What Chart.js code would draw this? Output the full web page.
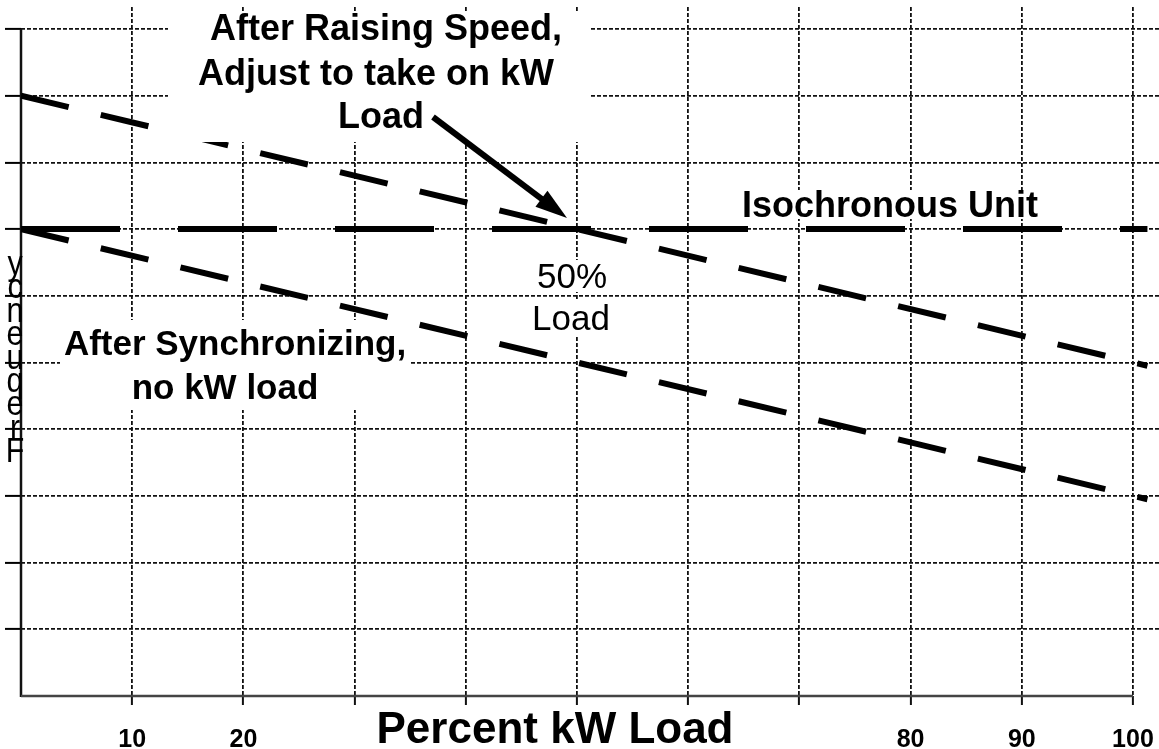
<!DOCTYPE html>
<html>
<head>
<meta charset="utf-8">
<script src="https://cdn.jsdelivr.net/npm/chart.js@4/dist/chart.umd.min.js"></script>
<style>
  html, body { margin: 0; padding: 0; background: #ffffff; }
  canvas { display: block; }
</style>
</head>
<body>
<canvas id="c" width="1159" height="749"></canvas>
<script>
// ---- data ----
const xTickValues = [0, 10, 20, 30, 40, 50, 60, 70, 80, 90, 100];
const xTickLabels = ['', '10', '20', '', '', '', '', '', '80', '90', '100'];
const yTickValues = [0, 1, 2, 3, 4, 5, 6, 7, 8, 9, 10];

const loadPercent = [0, 101.3];
const raisedSpeedFreq = [9, 4.95];
const isochronousFreq = [7, 7];
const synchronizedFreq = [7, 2.95];

const xAxisTitle = 'Percent kW Load';
const yAxisTitle = 'Frequency';
const raisedSpeedNote = ['After Raising Speed,', 'Adjust to take on kW', 'Load'];
const isochronousNote = 'Isochronous Unit';
const halfLoadNote = ['50%', 'Load'];
const synchronizedNote = ['After Synchronizing,', 'no kW load'];

const FONT = "'Liberation Sans', Arial, sans-serif";

function pts(xs, ys) { return xs.map((x, i) => ({ x: x, y: ys[i] })); }

const gridColor = (ctx) => (ctx.tick && ctx.tick.value === 0) ? 'rgba(0,0,0,0)' : '#111';

const overlay = {
  id: 'overlay',
  beforeDatasetsDraw(chart) {
    const { ctx, scales: { x, y } } = chart;
    ctx.save();
    ctx.setLineDash([]);
    ctx.strokeStyle = '#111';
    ctx.lineWidth = 2.5;
    ctx.beginPath();
    ctx.moveTo(x.getPixelForValue(0), y.getPixelForValue(10));
    ctx.lineTo(x.getPixelForValue(0), y.getPixelForValue(0) + 1);
    ctx.stroke();
    ctx.strokeStyle = '#444';
    ctx.beginPath();
    ctx.moveTo(x.getPixelForValue(0), y.getPixelForValue(0));
    ctx.lineTo(x.getPixelForValue(100), y.getPixelForValue(0));
    ctx.stroke();
    ctx.restore();
  },
  afterDatasetsDraw(chart) {
    const { ctx } = chart;
    ctx.save();
    ctx.setLineDash([]);
    // white backgrounds behind the notes
    ctx.fillStyle = '#ffffff';
    ctx.fillRect(168, 11, 422, 131);
    ctx.fillRect(60, 320, 350, 90);
    ctx.fillRect(735, 190, 310, 29);
    ctx.fillRect(533, 260, 80, 32);
    ctx.fillRect(527, 301, 90, 34);

    ctx.fillStyle = '#000';
    ctx.textAlign = 'center';
    ctx.textBaseline = 'alphabetic';
    ctx.font = 'bold 36px ' + FONT;
    ctx.fillText(raisedSpeedNote[0], 386, 40);
    ctx.fillText(raisedSpeedNote[1], 376, 85);
    ctx.fillText(raisedSpeedNote[2], 381, 128);
    ctx.fillText(isochronousNote, 890, 217);
    ctx.font = 'bold 35px ' + FONT;
    ctx.fillText(synchronizedNote[0], 235, 355);
    ctx.fillText(synchronizedNote[1], 225, 399);
    ctx.font = '35px ' + FONT;
    ctx.fillText(halfLoadNote[0], 572, 288);
    ctx.fillText(halfLoadNote[1], 571, 330);

    // arrow
    const x0 = 433, y0 = 117, x1 = 567, y1 = 218;
    const dx = x1 - x0, dy = y1 - y0, L = Math.hypot(dx, dy);
    const ux = dx / L, uy = dy / L;
    const hl = 32, hw = 10;
    ctx.strokeStyle = '#000';
    ctx.lineWidth = 6;
    ctx.beginPath();
    ctx.moveTo(x0, y0);
    ctx.lineTo(x1 - ux * hl * 0.8, y1 - uy * hl * 0.8);
    ctx.stroke();
    ctx.beginPath();
    ctx.moveTo(x1, y1);
    ctx.lineTo(x1 - ux * hl - uy * hw, y1 - uy * hl + ux * hw);
    ctx.lineTo(x1 - ux * hl + uy * hw, y1 - uy * hl - ux * hw);
    ctx.closePath();
    ctx.fillStyle = '#000';
    ctx.fill();
    ctx.restore();
  },
  afterDraw(chart) {
    const { ctx } = chart;
    ctx.save();
    ctx.fillStyle = '#000';
    ctx.textAlign = 'center';
    ctx.textBaseline = 'alphabetic';
    ctx.font = 'bold 44px ' + FONT;
    ctx.fillText(xAxisTitle, 555, 743);

    // garbled vertical axis title: letters stacked bottom-to-top
    const chars = yAxisTitle.split('').reverse();
    ctx.font = '32px ' + FONT;
    chars.forEach((ch, i) => {
      ctx.save();
      ctx.translate(15, 275 + i * 23.4);
      ctx.scale(0.95, 1.1);
      ctx.fillText(ch, 0, 0);
      ctx.restore();
    });
    ctx.restore();
  }
};

new Chart(document.getElementById('c'), {
  type: 'line',
  data: {
    datasets: [
      {
        label: 'After Raising Speed',
        data: pts(loadPercent, raisedSpeedFreq),
        borderColor: '#000',
        borderWidth: 6,
        borderDash: [49, 33],
        borderCapStyle: 'butt',
        pointRadius: 0,
        fill: false
      },
      {
        label: 'Isochronous Unit',
        data: pts(loadPercent, isochronousFreq),
        borderColor: '#000',
        borderWidth: 6,
        borderDash: [99, 58],
        borderCapStyle: 'butt',
        pointRadius: 0,
        fill: false
      },
      {
        label: 'After Synchronizing',
        data: pts(loadPercent, synchronizedFreq),
        borderColor: '#000',
        borderWidth: 6,
        borderDash: [49, 33],
        borderCapStyle: 'butt',
        pointRadius: 0,
        fill: false
      }
    ]
  },
  options: {
    responsive: false,
    animation: false,
    devicePixelRatio: 1,
    layout: { padding: { top: 7, right: 0, left: 0, bottom: 0 } },
    plugins: {
      legend: { display: false },
      tooltip: { enabled: false },
      title: { display: false }
    },
    scales: {
      x: {
        type: 'linear',
        min: 0,
        max: 102.34,
        afterBuildTicks: (s) => { s.ticks = xTickValues.map(v => ({ value: v })); },
        afterFit: (s) => { s.height = 53; s.paddingLeft = 0; s.paddingRight = 0; },
        border: { display: false, dash: [4, 2] },
        grid: {
          color: gridColor,
          lineWidth: 1.8,
          borderDash: [4, 2],
          drawTicks: true,
          tickLength: 9,
          tickWidth: 2,
          tickColor: gridColor,
          tickBorderDash: []
        },
        ticks: {
          autoSkip: false,
          maxRotation: 0,
          padding: 20,
          color: '#000',
          font: { family: FONT, size: 25, weight: 'bold' },
          callback: (v) => {
            const i = xTickValues.indexOf(v);
            return i >= 0 ? xTickLabels[i] : '';
          }
        }
      },
      y: {
        type: 'linear',
        min: 0,
        max: 10.33,
        afterBuildTicks: (s) => { s.ticks = yTickValues.map(v => ({ value: v })); },
        afterFit: (s) => { s.width = 21; s.paddingTop = 0; s.paddingBottom = 0; },
        border: { display: false, dash: [4, 2] },
        grid: {
          color: gridColor,
          lineWidth: 1.8,
          borderDash: [4, 2],
          drawTicks: true,
          tickLength: 16,
          tickWidth: 2,
          tickColor: (ctx) => (ctx.tick && ctx.tick.value === 0) ? 'rgba(0,0,0,0)' : '#000',
          tickBorderDash: []
        },
        ticks: { display: false }
      }
    }
  },
  plugins: [overlay]
});
</script>
</body>
</html>
